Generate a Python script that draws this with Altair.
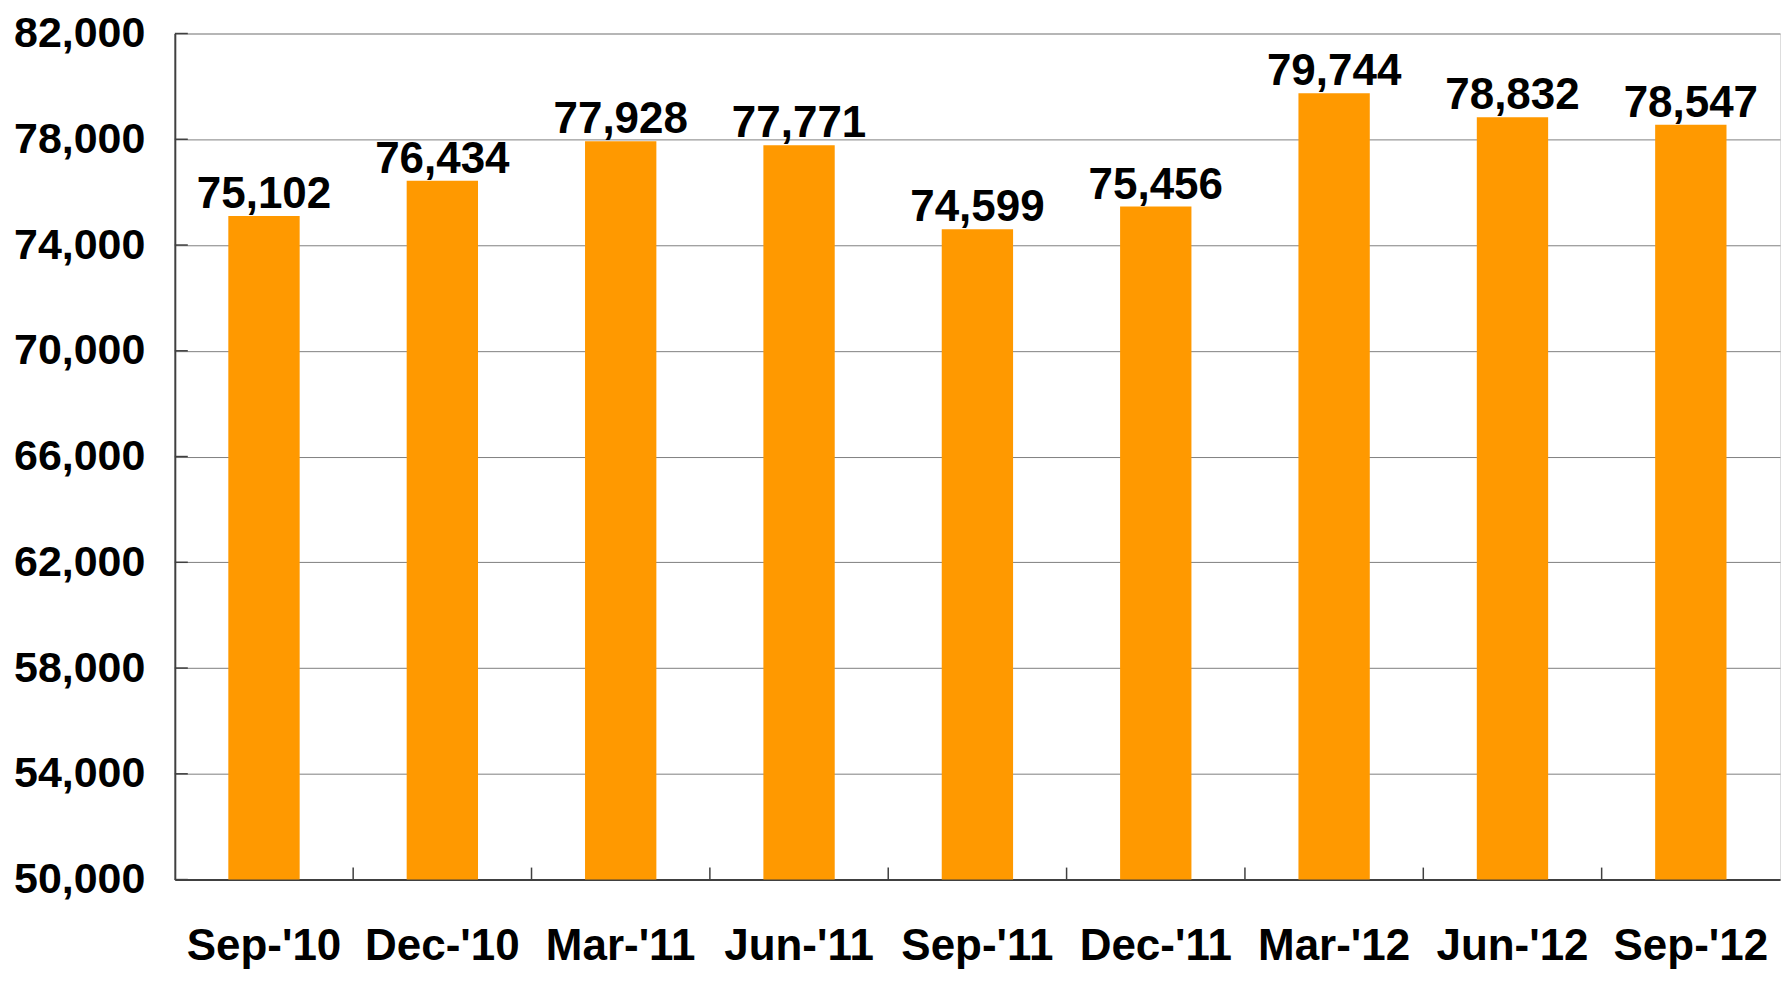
import altair as alt
import pandas as pd

periods = ["Sep-'10", "Dec-'10", "Mar-'11", "Jun-'11", "Sep-'11",
           "Dec-'11", "Mar-'12", "Jun-'12", "Sep-'12"]
values = [75102, 76434, 77928, 77771, 74599, 75456, 79744, 78832, 78547]
y_ticks = [50000, 54000, 58000, 62000, 66000, 70000, 74000, 78000, 82000]

W, H = 1607, 847
FONT = "Liberation Sans"

df = pd.DataFrame({"period": periods, "value": values})
tick_df = pd.DataFrame({"period": periods[1:]})
ytick_df = pd.DataFrame({"v": y_ticks})

xscale = alt.Scale(domain=periods, paddingInner=0.6, paddingOuter=0.3)
yscale = alt.Scale(domain=[50000, 82000], nice=False, zero=False)

bars = alt.Chart(df).mark_bar(color="#FF9900", clip=True).encode(
    x=alt.X("period:N", scale=xscale, sort=periods,
            axis=alt.Axis(title=None, labelAngle=0, tickSize=0, labelPadding=80,
                          labelBaseline="alphabetic",
                          labelFont=FONT, labelFontSize=44, labelFontWeight="bold",
                          labelColor="black", domainColor="#404040", domainWidth=2,
                          grid=False)),
    y=alt.Y("value:Q", scale=yscale,
            axis=alt.Axis(title=None, values=y_ticks, format=",d", tickSize=0,
                          labelPadding=30, labelFont=FONT, labelFontSize=43,
                          labelFontWeight="bold", labelColor="black",
                          domainColor="#404040", domainWidth=2,
                          grid=True, gridColor="#7f7f7f", gridWidth=1)),
)

labels = alt.Chart(df).mark_text(font=FONT, fontSize=44, fontWeight="bold",
                                 color="black", baseline="alphabetic", dy=-8).encode(
    x=alt.X("period:N", scale=xscale, sort=periods),
    y=alt.Y("value:Q", scale=yscale),
    text=alt.Text("value:Q", format=",d"),
)

xticks = alt.Chart(tick_df).mark_rule(color="#404040", strokeWidth=1.5,
                                      xOffset=-W / 18).encode(
    x=alt.X("period:N", scale=xscale, sort=periods),
    y=alt.value(H - 12),
    y2=alt.value(H),
)

yticks = alt.Chart(ytick_df).mark_rule(color="#404040", strokeWidth=1.5).encode(
    y=alt.Y("v:Q", scale=yscale),
    x=alt.value(0),
    x2=alt.value(13),
)

chart = alt.layer(bars, xticks, yticks, labels).properties(
    width=W, height=H,
    autosize=alt.AutoSizeParams(type="none"),
    padding={"left": 167, "top": 25, "right": 4, "bottom": 93},
).configure_view(stroke="#8c8c8c", strokeWidth=3).configure(background="white")

chart.save("out.html", embed_options={"renderer": "svg", "actions": False})
